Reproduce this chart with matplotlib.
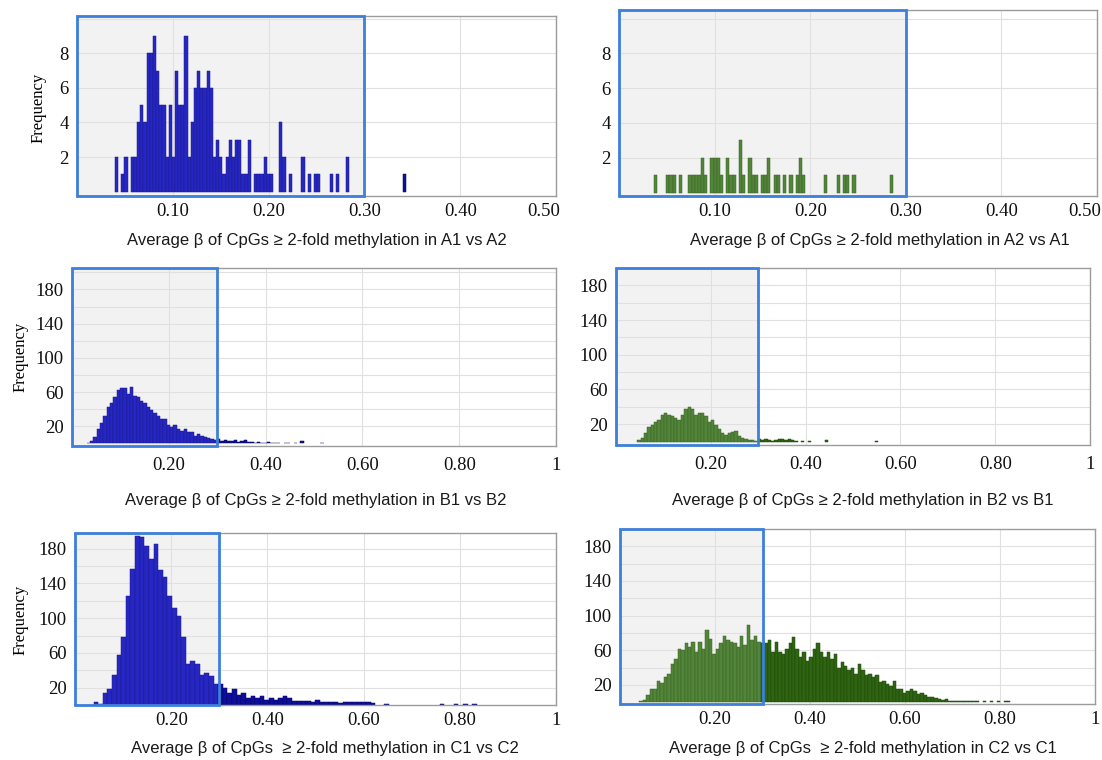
import numpy as np
import matplotlib.pyplot as plt
from matplotlib.patches import Rectangle
import matplotlib.transforms as mtransforms

plt.rcParams['font.family'] = ['Liberation Serif', 'DejaVu Serif']

# ---- data (bin start, bin width, counts per bin) ----
a1_start, a1_width = 0.0396, 0.0033
a1_counts = [2, 0, 1, 2, 0, 2, 2, 4, 5, 4, 8, 8, 9, 7, 5, 5, 2, 5, 2, 7,
             5, 5, 9, 2, 4, 6, 7, 6, 6, 7, 6, 2, 3, 2, 1, 2, 3, 2, 3, 3,
             1, 1, 3, 0, 1, 1, 1, 2, 1, 1, 0, 0, 4, 2, 0, 1, 0, 0, 0, 2,
             0, 1, 0, 1, 1, 0, 0, 0, 1, 0, 1, 0, 0, 2, 0, 0, 0, 0, 0, 0,
             0, 0, 0, 0, 0, 0, 0, 0, 0, 0, 0, 1]

a2_start, a2_width = 0.0363, 0.0033
a2_counts = [1, 0, 0, 0, 1, 1, 1, 0, 1, 0, 0, 1, 1, 1, 1, 2, 1, 0, 2, 2,
             2, 1, 0, 2, 1, 1, 0, 3, 1, 0, 2, 1, 1, 0, 1, 1, 2, 0, 1, 1,
             0, 1, 0, 1, 0, 1, 2, 1, 0, 0, 0, 0, 0, 0, 1, 0, 0, 0, 1, 0,
             1, 1, 0, 1, 0, 0, 0, 0, 0, 0, 0, 0, 0, 0, 0, 1]

b1_start, b1_width = 0.0303, 0.0069
b1_counts = [1, 3, 8, 17, 24, 32, 43, 47, 54, 62, 65, 65, 58, 66, 56, 54, 50, 47, 43, 39,
             36, 32, 28, 28, 22, 19, 21, 17, 15, 17, 13, 13, 9, 11, 9, 7, 6, 5,
             4, 5, 3, 4, 3, 3, 4, 2, 3, 4, 2, 2, 1, 2, 1, 1, 2, 1, 1, 1, 0, 1,
             1, 0, 1, 0, 3, 0, 0, 0, 0, 0, 1]

b2_start, b2_width = 0.0451, 0.00705
b2_counts = [2, 4, 10, 17, 19, 23, 25, 31, 33, 31, 29, 27, 25, 31, 38, 40, 37, 31, 33, 33,
             29, 23, 25, 19, 15, 10, 8, 10, 11, 12, 6, 4, 3, 2, 2, 1, 3,
             2, 3, 2, 1, 2, 3, 3, 2, 3, 2, 1, 0, 1, 0, 1, 0, 0, 0, 0, 2,
             0, 0, 0, 0, 0, 0, 0, 0, 0, 0, 0, 0, 0, 0, 1]

c1_start, c1_width = 0.0385, 0.0096
c1_counts = [3, 1, 14, 18, 35, 57, 78, 126, 157, 195, 193, 183, 168, 185, 155, 147, 126, 112, 103, 78,
             47, 51, 47, 35, 37, 33, 24, 24, 20, 14, 18, 12, 14, 8, 10, 8, 10, 6, 8, 6,
             8, 10, 8, 5, 5, 5, 5, 4, 6, 4, 4, 3, 4, 2, 3, 3, 3, 3, 3, 3,
             2, 0, 0, 1, 0, 0, 0, 0, 0, 0, 0, 0, 0, 0, 0, 1, 0, 0, 1, 0, 1, 0, 1]

c2_start, c2_width = 0.0409, 0.0073
c2_counts = [2, 3, 8, 15, 15, 25, 22, 29, 33, 44, 50, 62, 60, 68, 64, 70, 58, 70, 62, 83,
             73, 56, 62, 68, 77, 72, 70, 68, 64, 77, 66, 89, 72, 77, 70, 68,
             68, 72, 58, 70, 58, 56, 62, 68, 75, 62, 52, 58, 48, 52, 62, 68, 58, 52, 58, 50,
             56, 40, 46, 42, 37, 40, 33, 44, 37, 31, 33, 29, 31, 23, 25, 21, 19, 25, 15, 15,
             11, 13, 15, 13, 9, 11, 8, 6, 6, 5, 4, 3, 4, 2, 2, 2, 2, 2, 1, 1,
             1, 1, 0, 1, 0, 1, 0, 1, 0, 1, 1]

a_xticks = [0.1, 0.2, 0.3, 0.4, 0.5]
a_xlabels = ['0.10', '0.20', '0.30', '0.40', '0.50']
bc_xticks = [0.2, 0.4, 0.6, 0.8, 1.0]
bc_xlabels = ['0.20', '0.40', '0.60', '0.80', '1']
a_yticks = [2, 4, 6, 8]
bc_yticks = [20, 60, 100, 140, 180]

titles = ['Average \u03b2 of CpGs \u2265 2-fold methylation in A1 vs A2',
          'Average \u03b2 of CpGs \u2265 2-fold methylation in A2 vs A1',
          'Average \u03b2 of CpGs \u2265 2-fold methylation in B1 vs B2',
          'Average \u03b2 of CpGs \u2265 2-fold methylation in B2 vs B1',
          'Average \u03b2 of CpGs  \u2265 2-fold methylation in C1 vs C2',
          'Average \u03b2 of CpGs  \u2265 2-fold methylation in C2 vs C1']

BOX_X = 0.3
BOX_FILL = '#f2f2f2'
BOX_EDGE = '#3d7fdc'
BLUE = (('#2626c2', '#1a1a8e'), ('#0e0e9c', '#07075e'))
GREEN = (('#52843a', '#3b6524'), ('#2f6512', '#1e4709'))

W, H = 1102, 760
fig = plt.figure(figsize=(W / 100, H / 100), dpi=100)


def px_axes(l, r, t, b):
    return fig.add_axes([l / W, 1 - b / H, (r - l) / W, (b - t) / H])


def draw_hist(ax, start, width, counts, colors, xmax, ylim, yticks, ystep,
              xticks, xlabels, pad):
    counts = np.asarray(counts)
    lefts = start + width * np.arange(len(counts))
    keep = counts > 0
    inside = (lefts + width / 2) < BOX_X

    ax.axvspan(0, BOX_X, color=BOX_FILL, lw=0, zorder=0.2)
    for sel, (fc, ec) in zip([inside & keep, ~inside & keep], colors):
        ax.bar(lefts[sel], counts[sel], width=width, align='edge',
               color=fc, edgecolor=ec, linewidth=0.35, zorder=2)

    ax.set_xlim(0, xmax)
    ax.set_ylim(*ylim)
    ax.set_xticks(xticks)
    ax.set_xticklabels(xlabels)
    ax.set_yticks(yticks)
    ax.set_yticks(np.arange(ystep, ylim[1], ystep), minor=True)
    ax.grid(which='major', color='#e0e0e0', lw=0.8)
    ax.yaxis.grid(which='minor', color='#e0e0e0', lw=0.8)
    ax.set_axisbelow(True)
    ax.tick_params(which='both', length=0, labelsize=13.5, labelcolor='#111111')
    ax.tick_params(axis='x', pad=pad)
    ax.tick_params(axis='y', pad=6)
    for s in ax.spines.values():
        s.set_color('#9c9c9c')
        s.set_linewidth(1)

    ax.add_patch(Rectangle((0, 0), BOX_X, 1, transform=ax.get_xaxis_transform(),
                           fill=False, edgecolor=BOX_EDGE, lw=2.0, zorder=5,
                           clip_on=False))


# row A
ax = px_axes(77, 556, 16, 196)
draw_hist(ax, a1_start, a1_width, a1_counts, BLUE, 0.5, (-0.25, 10.15),
          a_yticks, 2, a_xticks, a_xlabels, 5)
ax_a1 = ax
ax = px_axes(619, 1097, 10, 196)
draw_hist(ax, a2_start, a2_width, a2_counts, GREEN, 0.5, (-0.2, 10.5),
          a_yticks, 2, a_xticks, a_xlabels, 5)
ax_a2 = ax
for a in (ax_a1, ax_a2):
    lab = a.get_xticklabels()[-1]
    lab.set_horizontalalignment('right')
    lab.set_transform(lab.get_transform() +
                      mtransforms.ScaledTranslation(3 / 72, 0, fig.dpi_scale_trans))

# row B
ax = px_axes(72, 556, 268, 446)
draw_hist(ax, b1_start, b1_width, b1_counts, BLUE, 1.0, (-3, 205),
          bc_yticks, 20, bc_xticks, bc_xlabels, 8)
ax = px_axes(616, 1090, 268, 445)
draw_hist(ax, b2_start, b2_width, b2_counts, GREEN, 1.0, (-4, 200),
          bc_yticks, 20, bc_xticks, bc_xlabels, 8)

# row C
ax = px_axes(75, 556, 533, 705)
draw_hist(ax, c1_start, c1_width, c1_counts, BLUE, 1.0, (0, 198),
          bc_yticks, 20, bc_xticks, bc_xlabels, 5)
ax = px_axes(620, 1095, 529, 704)
draw_hist(ax, c2_start, c2_width, c2_counts, GREEN, 1.0, (-2, 200),
          bc_yticks, 20, bc_xticks, bc_xlabels, 5)

# axis titles under each panel
label_pos = [(317, 240), (880, 240), (316, 500), (863, 500), (325, 748), (863, 748)]
for (cx, cy), txt in zip(label_pos, titles):
    fig.text(cx / W, 1 - cy / H, txt, ha='center', va='center', fontsize=12,
             family=['Liberation Sans', 'DejaVu Sans'], color='#1a1a1a')

for cx, cy in ((39, 108), (21, 357), (21, 620)):
    fig.text(cx / W, 1 - cy / H, 'Frequency', rotation=90, ha='center',
             va='center', fontsize=12)

fig.savefig('out.png', dpi=100)
